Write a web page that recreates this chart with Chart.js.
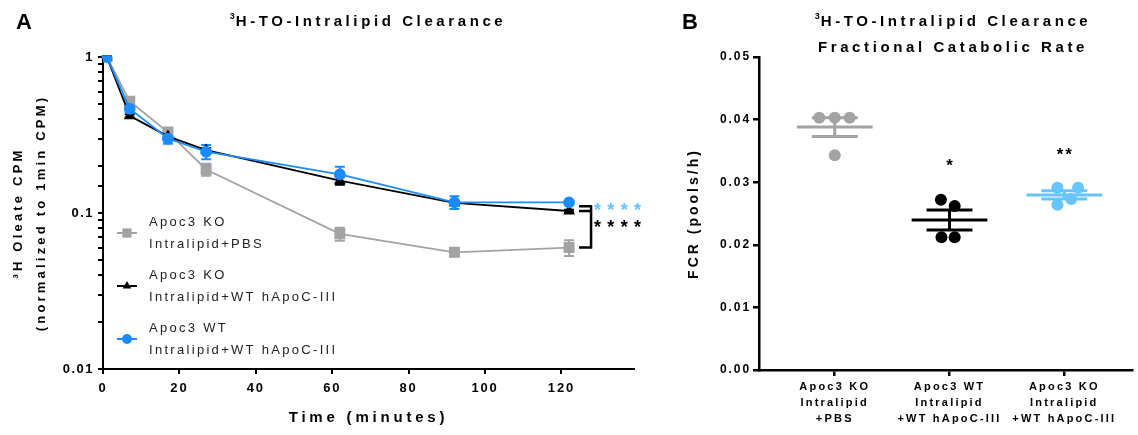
<!DOCTYPE html>
<html>
<head>
<meta charset="utf-8">
<script src="https://cdn.jsdelivr.net/npm/chart.js@4.4.0/dist/chart.umd.min.js"></script>
<style>
  body { margin: 0; background: #fff; }
  #chartA { position: absolute; left: 0; top: 0; }
  #chartB { position: absolute; left: 665px; top: 0; }
</style>
</head>
<body>
<canvas id="chartA" width="665" height="435"></canvas>
<canvas id="chartB" width="473" height="435"></canvas>
<script>
// ---- panel A data (clearance curves) ----
const times = [1, 7, 17, 27, 62, 92, 122];
const koPbs = [1, 0.52, 0.33, 0.19, 0.0735, 0.056, 0.060];
const koPbsErr = [0.01, 0.02, 0.015, 0.017, 0.007, 0.002, 0.007];
const koApoc = [1, 0.42, 0.31, 0.253, 0.161, 0.116, 0.103];
const koApocErr = [0.01, 0.01, 0.01, 0.008, 0.009, 0.004, 0.002];
const wtApoc = [1, 0.466, 0.30, 0.247, 0.177, 0.117, 0.117];
const wtApocErr = [0.01, 0.025, 0.022, 0.026, 0.021, 0.011, 0.002];
const legendLabels = [
  ['Apoc3 KO', 'Intralipid+PBS'],
  ['Apoc3 KO', 'Intralipid+WT hApoC-III'],
  ['Apoc3 WT', 'Intralipid+WT hApoC-III']
];
const xTickStep = 20;

// ---- panel B data (FCR per mouse) ----
const groupLabels = [
  ['Apoc3 KO', 'Intralipid', '+PBS'],
  ['Apoc3 WT', 'Intralipid', '+WT hApoC-III'],
  ['Apoc3 KO', 'Intralipid', '+WT hApoC-III']
];
const fcrKoPbs = [0.0403, 0.0403, 0.0403, 0.0343];
const fcrWtApoc = [0.0272, 0.0262, 0.0212, 0.0212];
const fcrKoApoc = [0.0291, 0.0291, 0.0264, 0.0273];
const fcrStars = ['', '*', '**'];

const GRAY = '#a3a3a3', BLACK = '#000000', BLUE = '#1a8cff', LIGHTBLUE = '#66c4ff';
const FONT = '"Liberation Sans", Arial, sans-serif';
Chart.defaults.font.family = FONT;
Chart.defaults.color = '#000';

// wrap a scale draw method so its text gets letter spacing
function track(scale, fn, px) {
  if (scale['_tr_' + fn]) return;
  const orig = scale[fn];
  scale[fn] = function (...args) {
    this.ctx.save();
    this.ctx.letterSpacing = px + 'px';
    orig.apply(this, args);
    this.ctx.restore();
  };
  scale['_tr_' + fn] = true;
}

function drawText(ctx, text, x, y, font, sp, color, align) {
  ctx.save();
  ctx.font = font;
  ctx.letterSpacing = sp + 'px';
  ctx.fillStyle = color || '#000';
  ctx.textAlign = align || 'center';
  ctx.textBaseline = 'middle';
  ctx.fillText(text, align === 'left' ? x : x + sp / 2, y);
  ctx.restore();
}

// title with a small raised "3" before it
function drawTitle(ctx, text, cx, y, sup) {
  ctx.save();
  ctx.textBaseline = 'middle';
  ctx.letterSpacing = '3.6px';
  ctx.font = 'bold 15px ' + FONT;
  const w = ctx.measureText(text).width;
  let sw = 0;
  if (sup) {
    ctx.font = 'bold 9px ' + FONT;
    ctx.letterSpacing = '1px';
    sw = ctx.measureText(sup).width;
  }
  let x = cx - (w + sw) / 2 + 2;
  if (sup) {
    ctx.fillText(sup, x, y - 5);
    x += sw;
  }
  ctx.font = 'bold 15px ' + FONT;
  ctx.letterSpacing = '3.6px';
  ctx.fillText(text, x, y);
  ctx.restore();
}

const spacing = {
  id: 'spacing',
  beforeDraw(chart) {
    Object.values(chart.scales).forEach(s => {
      track(s, 'drawLabels', s.options.sp || 1);
      track(s, 'drawTitle', s.options.title.sp || 2);
    });
  }
};

// ---------------- Panel A ----------------
const errorBars = {
  id: 'errorBars',
  beforeDatasetsDraw(chart) {
    const { ctx, scales: { x, y } } = chart;
    chart.data.datasets.forEach(ds => {
      ctx.save();
      ctx.strokeStyle = ds.borderColor;
      ctx.lineWidth = 2;
      ds.data.forEach((p, i) => {
        const px = x.getPixelForValue(p.x);
        const top = y.getPixelForValue(p.y + ds.err[i]);
        const bot = y.getPixelForValue(p.y - ds.err[i]);
        ctx.beginPath();
        ctx.moveTo(px, top); ctx.lineTo(px, bot);
        ctx.moveTo(px - 5, top); ctx.lineTo(px + 5, top);
        ctx.moveTo(px - 5, bot); ctx.lineTo(px + 5, bot);
        ctx.stroke();
      });
      ctx.restore();
    });
  }
};

const decorA = {
  id: 'decorA',
  afterDraw(chart) {
    const { ctx, scales: { x, y } } = chart;
    drawText(ctx, 'A', 24, 23, 'bold 22px ' + FONT, 0);
    drawTitle(ctx, 'H-TO-Intralipid Clearance', 366, 22, '3');

    // legend inside the plot
    const sets = chart.data.datasets;
    const rows = [233, 286, 339];
    sets.forEach((ds, i) => {
      const ry = rows[i];
      ctx.save();
      ctx.strokeStyle = ds.borderColor;
      ctx.lineWidth = 2;
      ctx.beginPath(); ctx.moveTo(117, ry); ctx.lineTo(137, ry); ctx.stroke();
      ctx.fillStyle = ds.borderColor;
      Chart.helpers.drawPoint(ctx, { pointStyle: ds.pointStyle, radius: ds.pointRadius, borderWidth: 0 }, 127, ry);
      ctx.restore();
      drawText(ctx, legendLabels[i][0], 149, ry - 11, '13px ' + FONT, 2.3, '#222', 'left');
      drawText(ctx, legendLabels[i][1], 149, ry + 11, '13px ' + FONT, 2.3, '#222', 'left');
    });

    // significance brackets at the last time point
    const last = times.length - 1;
    const px = x.getPixelForValue(times[last]);
    const yb = y.getPixelForValue(wtApoc[last]) + 4;
    const yk = y.getPixelForValue(koApoc[last]);
    const yg = y.getPixelForValue(koPbs[last]);
    const x0 = px + 10, xv = px + 22;
    ctx.save();
    ctx.strokeStyle = '#000';
    ctx.lineWidth = 2.5;
    ctx.beginPath();
    ctx.moveTo(x0, yb); ctx.lineTo(xv + 1, yb);
    ctx.moveTo(x0, yk); ctx.lineTo(xv, yk);
    ctx.moveTo(x0, yg); ctx.lineTo(xv + 1, yg);
    ctx.moveTo(xv, yb - 1); ctx.lineTo(xv, yg + 1);
    ctx.stroke();
    ctx.restore();
    drawText(ctx, '****', xv + 3, yb + 5, 'bold 18px ' + FONT, 6.3, LIGHTBLUE, 'left');
    drawText(ctx, '****', xv + 3, yk + 17, 'bold 18px ' + FONT, 6.3, '#000', 'left');
  }
};

function series(vals) { return vals.map((v, i) => ({ x: times[i], y: v })); }

new Chart(document.getElementById('chartA'), {
  type: 'line',
  data: {
    datasets: [
      { label: legendLabels[0].join(' '), data: series(koPbs), err: koPbsErr, borderColor: GRAY, backgroundColor: GRAY,
        pointStyle: 'rect', pointRadius: 6.5, borderWidth: 1.8, order: 3 },
      { label: legendLabels[1].join(' '), data: series(koApoc), err: koApocErr, borderColor: BLACK, backgroundColor: BLACK,
        pointStyle: 'triangle', pointRadius: 5, borderWidth: 1.8, order: 2 },
      { label: legendLabels[2].join(' '), data: series(wtApoc), err: wtApocErr, borderColor: BLUE, backgroundColor: BLUE,
        pointStyle: 'circle', pointRadius: 5, borderWidth: 1.8, order: 1 }
    ]
  },
  options: {
    responsive: false,
    animation: false,
    elements: { point: { borderWidth: 0, hoverRadius: 5 }, line: { tension: 0 } },
    layout: { padding: { top: 57, right: 31, left: 0, bottom: 0 } },
    plugins: { legend: { display: false }, tooltip: { enabled: false } },
    scales: {
      x: {
        type: 'linear', min: 0, max: 139, sp: 1.8,
        ticks: { stepSize: xTickStep, includeBounds: false, font: { size: 13, weight: 'bold' }, padding: 7, maxRotation: 0 },
        grid: { drawOnChartArea: false, color: '#000', lineWidth: 2, tickLength: 5 },
        border: { color: '#000', width: 2 },
        title: { display: true, text: 'Time (minutes)', sp: 3.8, font: { size: 15, weight: 'bold' }, padding: { bottom: 8 } },
        afterFit(s) { s.height = 66; }
      },
      y: {
        type: 'logarithmic', min: 0.01, max: 1, sp: 1.5,
        ticks: {
          autoSkip: false, font: { size: 13, weight: 'bold' }, padding: 4,
          callback(v) { const l = Math.log10(v); return Math.abs(l - Math.round(l)) < 1e-9 ? String(v) : ''; }
        },
        grid: { drawOnChartArea: false, color: '#000', lineWidth: 2, tickLength: 5 },
        border: { color: '#000', width: 2 },
        title: { display: true, text: ['³H Oleate CPM', '(normalized to 1min CPM)'], sp: 3.2,
                 font: { size: 13, weight: 'bold', lineHeight: 23 / 13 }, padding: { top: 7 } },
        afterFit(s) { s.width = 103; }
      }
    }
  },
  plugins: [spacing, errorBars, decorA]
});

// ---------------- Panel B ----------------
const groups = [fcrKoPbs, fcrWtApoc, fcrKoApoc];
const groupColors = [GRAY, BLACK, LIGHTBLUE];
const jitter = [[-0.135, 0, 0.13, 0], [-0.075, 0.045, -0.07, 0.045], [-0.06, 0.12, -0.06, 0.06]];

function mean(a) { return a.reduce((s, v) => s + v, 0) / a.length; }
function sem(a) {
  const m = mean(a);
  const sd = Math.sqrt(a.reduce((s, v) => s + (v - m) * (v - m), 0) / (a.length - 1));
  return sd / Math.sqrt(a.length);
}

const meanSem = {
  id: 'meanSem',
  afterDatasetsDraw(chart) {
    const { ctx, scales: { x, y } } = chart;
    groups.forEach((vals, g) => {
      const cx = x.getPixelForValue(g + 1);
      const m = y.getPixelForValue(mean(vals));
      const hi = y.getPixelForValue(mean(vals) + sem(vals));
      const lo = y.getPixelForValue(mean(vals) - sem(vals));
      const wM = x.getPixelForValue(g + 1.33) - cx;
      const wC = x.getPixelForValue(g + 1.2) - cx;
      ctx.save();
      ctx.strokeStyle = groupColors[g];
      ctx.lineWidth = 3;
      ctx.beginPath();
      ctx.moveTo(cx - wM, m); ctx.lineTo(cx + wM, m);
      ctx.moveTo(cx, hi); ctx.lineTo(cx, lo);
      ctx.moveTo(cx - wC, hi); ctx.lineTo(cx + wC, hi);
      ctx.moveTo(cx - wC, lo); ctx.lineTo(cx + wC, lo);
      ctx.stroke();
      ctx.restore();
      if (fcrStars[g]) {
        drawText(ctx, fcrStars[g], cx, y.getPixelForValue(Math.max(...vals)) - 33, 'bold 17px ' + FONT, 2, '#000');
      }
    });
  }
};

const decorB = {
  id: 'decorB',
  afterDraw(chart) {
    const ctx = chart.ctx;
    drawText(ctx, 'B', 25, 23, 'bold 22px ' + FONT, 0);
    drawTitle(ctx, 'H-TO-Intralipid Clearance', 286, 22, '3');
    drawTitle(ctx, 'Fractional Catabolic Rate', 286, 48);
  }
};

new Chart(document.getElementById('chartB'), {
  type: 'scatter',
  data: {
    datasets: groups.map((vals, g) => ({
      label: groupLabels[g].join(' '),
      data: vals.map((v, i) => ({ x: g + 1 + jitter[g][i], y: v })),
      backgroundColor: groupColors[g],
      borderColor: groupColors[g],
      pointRadius: 6,
      borderWidth: 0
    }))
  },
  options: {
    responsive: false,
    animation: false,
    layout: { padding: { top: 57, right: 3, left: 0, bottom: 0 } },
    plugins: { legend: { display: false }, tooltip: { enabled: false } },
    scales: {
      x: {
        type: 'linear', min: 0.34, max: 3.59, sp: 2.2,
        afterBuildTicks(s) { s.ticks = groupLabels.map((l, i) => ({ value: i + 1 })); },
        ticks: { autoSkip: false, maxRotation: 0, font: { size: 11, weight: 'bold', lineHeight: 16 / 11 }, padding: 3,
                 callback(v) { return groupLabels[Math.round(v) - 1]; } },
        grid: { drawOnChartArea: false, color: '#000', lineWidth: 2.5, tickLength: 6 },
        border: { color: '#000', width: 2.5 },
        afterFit(s) { s.height = 65; }
      },
      y: {
        min: 0, max: 0.05, sp: 1.9,
        ticks: { stepSize: 0.01, font: { size: 12, weight: 'bold' }, padding: 2, callback(v) { return v.toFixed(2); } },
        grid: { drawOnChartArea: false, color: '#000', lineWidth: 2.5, tickLength: 6 },
        border: { color: '#000', width: 2.5 },
        title: { display: true, text: 'FCR (pools/h)', sp: 3, font: { size: 14, weight: 'bold' }, padding: { top: 21 } },
        afterFit(s) { s.width = 94; }
      }
    }
  },
  plugins: [spacing, meanSem, decorB]
});
</script>
</body>
</html>
